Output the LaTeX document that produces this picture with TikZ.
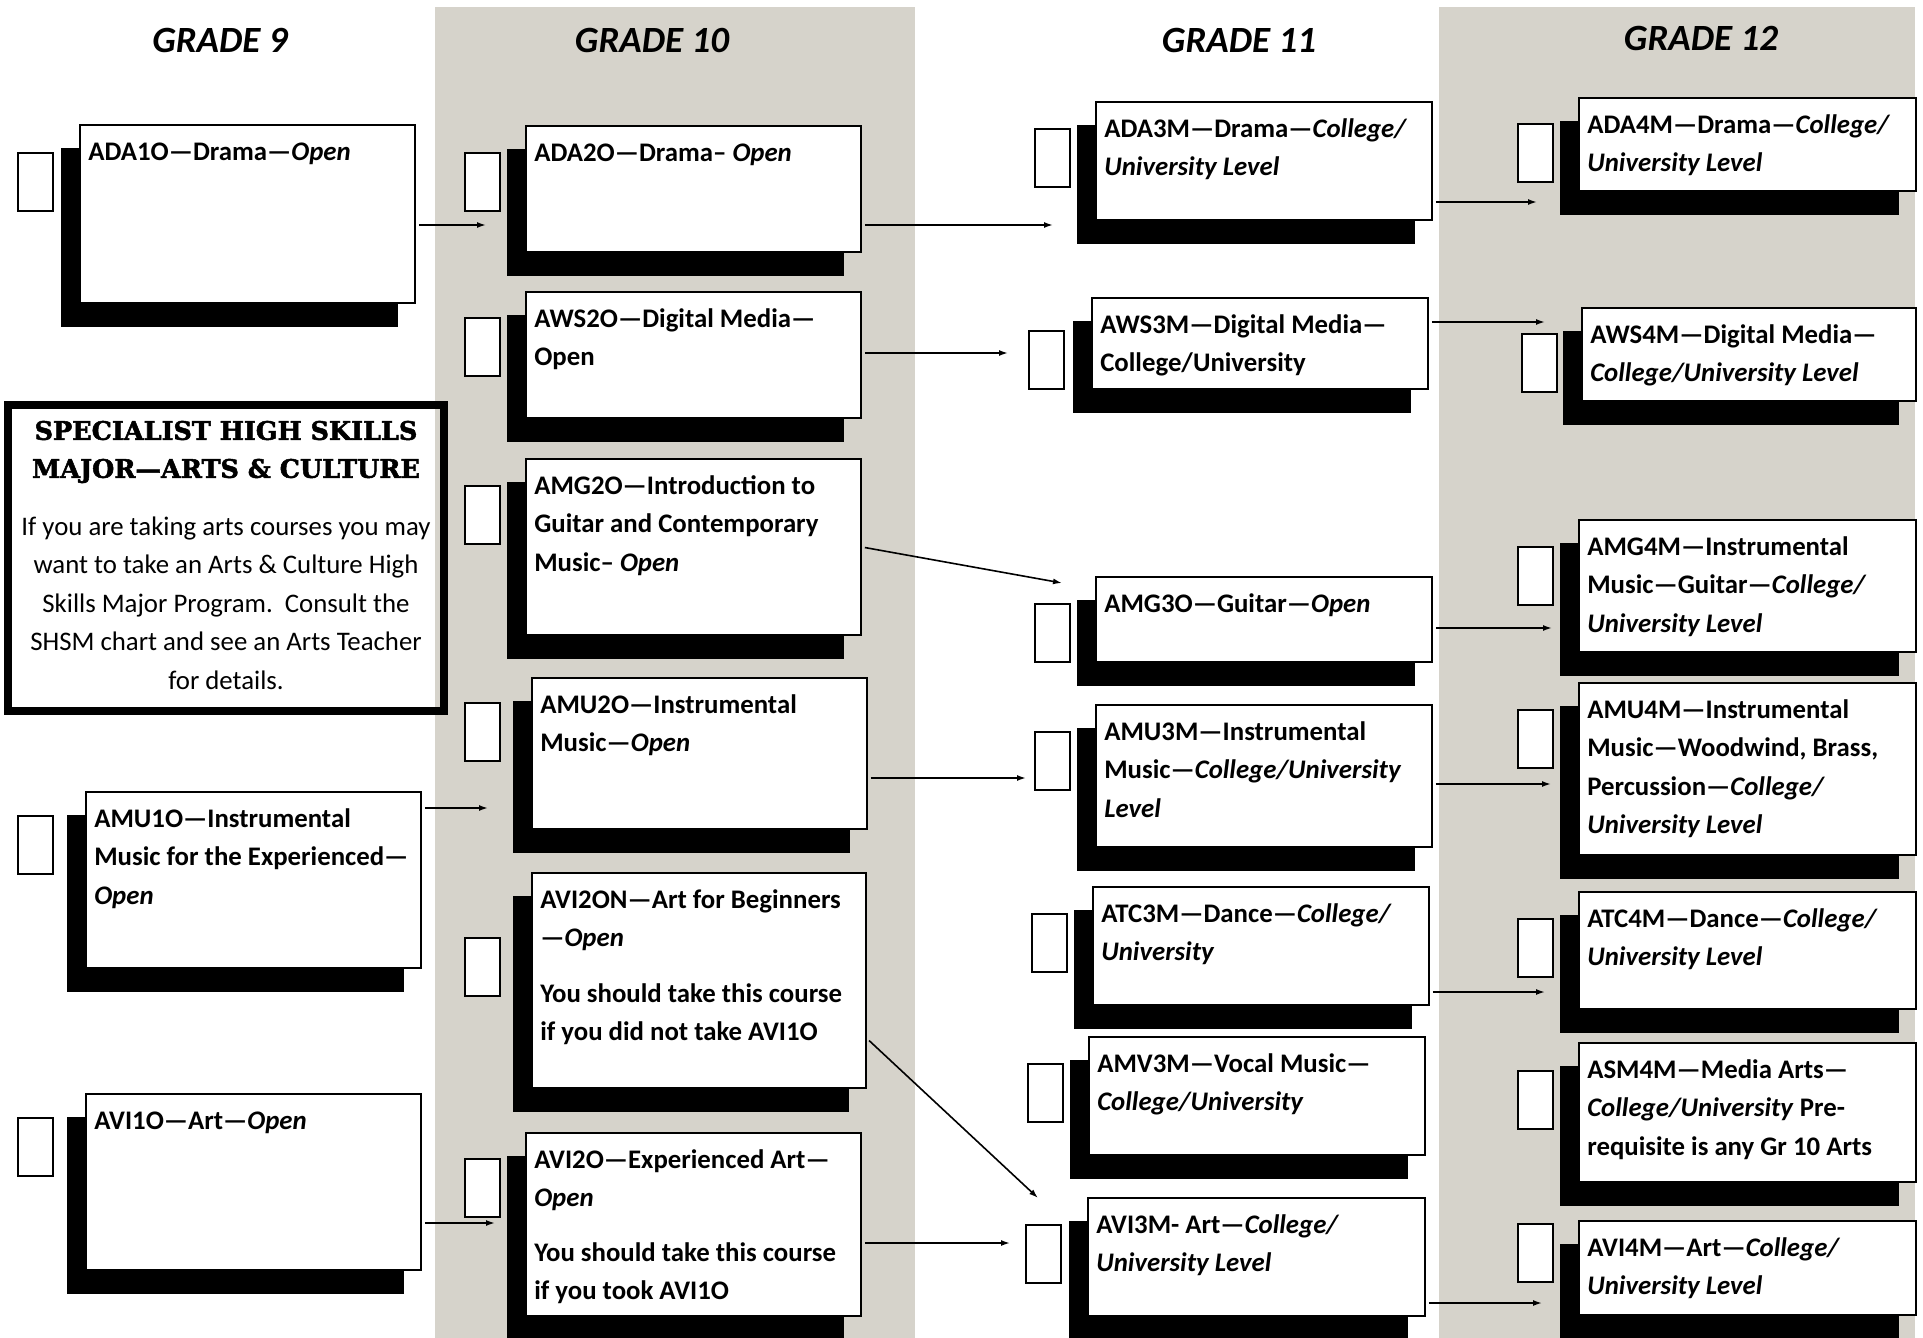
\documentclass[tikz,border=0pt]{standalone}
\usepackage{fontspec}
\setmainfont{Carlito}
\newfontfamily\shsmfont{DejaVu Serif}[BoldFeatures={FakeBold=2}]
\usepackage{tikz}
\usetikzlibrary{arrows.meta,positioning,calc}
\definecolor{gradegray}{HTML}{D6D3CB}

% #1 name, #2-#5 box left/top/right/bottom, #6-#7 tick box corner, #8 text
\newcommand{\course}[8]{%
  \fill[black] ({#2-19},{#3+23}) rectangle ({#4-17},{#5+24});
  \node[coursebox,minimum width={(#4-#2)*1pt},minimum height={(#5-#3)*1pt}] (#1) at ({(#2+#4)/2},{(#3+#5)/2}) {};
  \node[tickbox] (#1tick) at (#6,#7) {};
  \node[coursetext] (#1text) at ([shift={(9pt,-9pt)}]#1.north west) {\strut #8};
}

\begin{document}
\begin{tikzpicture}[x=1pt,y=-1pt,
  grade/.style={font=\fontsize{37}{40}\selectfont\bfseries\itshape},
  coursebox/.style={draw=black,line width=1.8pt,fill=white,inner sep=0pt},
  tickbox/.style={draw=black,line width=1.6pt,fill=white,inner sep=0pt,anchor=north west,minimum width=35pt,minimum height=58pt},
  coursetext/.style={anchor=north west,inner sep=0pt,align=left,font=\fontsize{26.8}{38.5}\selectfont\bfseries},
  link/.style={-{Latex[length=9pt,width=6pt]},line width=1.6pt,shorten <=3pt}]
  \useasboundingbox (0,0) rectangle (1923,1338);
  \clip (0,0) rectangle (1923,1338);

  % grade columns
  \fill[gradegray] (435,7) rectangle (915,1338);
  \fill[gradegray] (1439,7) rectangle (1915,1338);
  \node[grade] (g9) at (220,40) {GRADE 9};
  \node[grade] (g10) at (652,40) {GRADE 10};
  \node[grade] (g11) at (1239,40) {GRADE 11};
  \node[grade] (g12) at (1701,38) {GRADE 12};

  % grade 9
  \course{ada1}{80}{125}{415}{303}{17}{152}{ADA1O—Drama—\textit{Open}}
  \course{amu1}{86}{792}{421}{968}{17}{815}{AMU1O—Instrumental\\Music for the Experienced—\\\textit{Open}}
  \course{avi1}{86}{1094}{421}{1270}{17}{1117}{AVI1O—Art—\textit{Open}}

  % shsm note
  \node[draw,line width=8pt,minimum width=436pt,minimum height=305.5pt,inner sep=0pt] (shsm) at (226,558) {};
  \node[font=\shsmfont\bfseries\fontsize{25.5}{38}\selectfont,align=center] (shsmhead) at (226,452) {SPECIALIST HIGH SKILLS\\MAJOR—ARTS \& CULTURE};
  \node[font=\fontsize{26.8}{38.5}\selectfont,align=center] (shsmbody) at (226,603) {If you are taking arts courses you may\\want to take an Arts \& Culture High\\Skills Major Program.\ \ Consult the\\SHSM chart and see an Arts Teacher\\for details.};

  % grade 10
  \course{ada2}{526}{126}{861}{252}{464}{152}{ADA2O—Drama– \textit{Open}}
  \course{aws2}{526}{292}{861}{418}{464}{317}{AWS2O—Digital Media—\\Open}
  \course{amg2}{526}{459}{861}{635}{464}{485}{AMG2O—Introduction to\\Guitar and Contemporary\\Music– \textit{Open}}
  \course{amu2}{532}{678}{867}{829}{464}{702}{AMU2O—Instrumental\\Music—\textit{Open}}
  \course{avi2n}{532}{873}{866}{1088}{464}{937}{AVI2ON—Art for Beginners\\—\textit{Open}\\[17pt]You should take this course\\if you did not take AVI1O}
  \course{avi2}{526}{1133}{861}{1316}{464}{1158}{AVI2O—Experienced Art—\\\textit{Open}\\[16pt]You should take this course\\if you took AVI1O}

  % grade 11
  \course{ada3}{1096}{102}{1432}{220}{1034}{128}{ADA3M—Drama—\textit{College/}\\\textit{University Level}}
  \course{aws3}{1092}{298}{1428}{389}{1028}{330}{AWS3M—Digital Media—\\College/University}
  \course{amg3}{1096}{577}{1432}{662}{1034}{603}{AMG3O—Guitar—\textit{Open}}
  \course{amu3}{1096}{705}{1432}{847}{1034}{731}{AMU3M—Instrumental\\Music—\textit{College/University}\\\textit{Level}}
  \course{atc3}{1093}{887}{1429}{1005}{1031}{913}{ATC3M—Dance—\textit{College/}\\\textit{University}}
  \course{amv3}{1089}{1037}{1425}{1155}{1027}{1063}{AMV3M—Vocal Music—\\\textit{College/University}}
  \course{avi3}{1088}{1198}{1425}{1316}{1025}{1224}{AVI3M- Art—\textit{College/}\\\textit{University Level}}

  % grade 12
  \course{ada4}{1579}{98}{1916}{191}{1517}{123}{ADA4M—Drama—\textit{College/}\\\textit{University Level}}
  \course{aws4}{1582}{308}{1916}{401}{1521}{333}{AWS4M—Digital Media—\\\textit{College/University Level}}
  \course{amg4}{1579}{520}{1916}{652}{1517}{546}{AMG4M—Instrumental\\Music—Guitar—\textit{College/}\\\textit{University Level}}
  \course{amu4}{1579}{683}{1916}{855}{1517}{709}{AMU4M—Instrumental\\Music—Woodwind, Brass,\\Percussion—\textit{College/}\\\textit{University Level}}
  \course{atc4}{1579}{892}{1916}{1009}{1517}{918}{ATC4M—Dance—\textit{College/}\\\textit{University Level}}
  \course{asm4}{1579}{1043}{1916}{1182}{1517}{1070}{ASM4M—Media Arts—\\\textit{College/University} Pre-\\requisite is any Gr 10 Arts}
  \course{avi4}{1579}{1221}{1916}{1315}{1517}{1223}{AVI4M—Art—\textit{College/}\\\textit{University Level}}

  % arrow ends
  \coordinate (ada2in) at (486,225);
  \coordinate (ada3in) at (1053,225);
  \coordinate (aws3in) at (1008,353);
  \coordinate (amg3in) at (1062,583);
  \coordinate (amu2in) at (488,808);
  \coordinate (amu3in) at (1026,778);
  \coordinate (avi3ina) at (1038,1198);
  \coordinate (avi2in) at (495,1223);
  \coordinate (avi3inb) at (1010,1243);
  \coordinate (ada4in) at (1537,202);
  \coordinate (aws4in) at (1545,322);
  \coordinate (amg4in) at (1552,628);
  \coordinate (amu4in) at (1551,784);
  \coordinate (atc4in) at (1545,992);
  \coordinate (avi4in) at (1542,1303);

  \draw[link] (ada1.east |- ada2in) -- (ada2in);
  \draw[link] (ada2.east |- ada3in) -- (ada3in);
  \draw[link] (aws2.east |- aws3in) -- (aws3in);
  \draw[link] (amg2.east) -- (amg3in);
  \draw[link] (amu1.east |- amu2in) -- (amu2in);
  \draw[link] (amu2.east |- amu3in) -- (amu3in);
  \draw[link] ([yshift=-58pt]avi2n.east) -- (avi3ina);
  \draw[link] (avi1.east |- avi2in) -- (avi2in);
  \draw[link] (avi2.east |- avi3inb) -- (avi3inb);
  \draw[link] (ada3.east |- ada4in) -- (ada4in);
  \draw[link] (aws3.east |- aws4in) -- (aws4in);
  \draw[link] (amg3.east |- amg4in) -- (amg4in);
  \draw[link] (amu3.east |- amu4in) -- (amu4in);
  \draw[link] (atc3.east |- atc4in) -- (atc4in);
  \draw[link] (avi3.east |- avi4in) -- (avi4in);
\end{tikzpicture}
\end{document}
